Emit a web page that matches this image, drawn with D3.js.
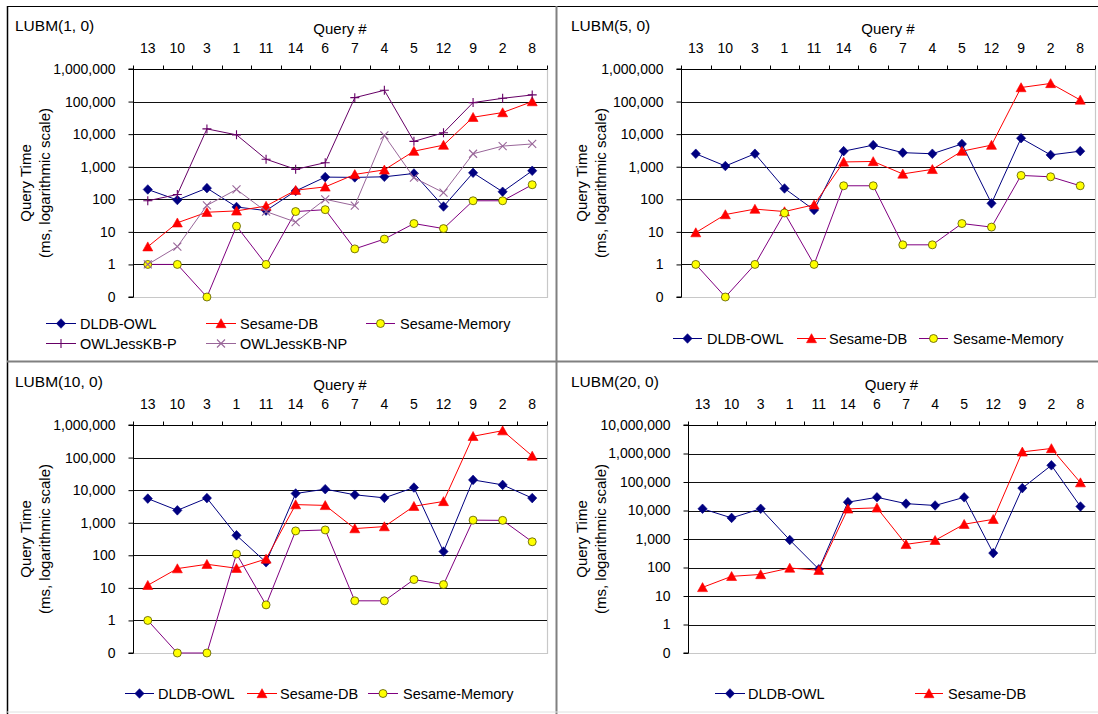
<!DOCTYPE html>
<html>
<head>
<meta charset="utf-8">
<script src="https://cdn.jsdelivr.net/npm/d3@7"></script>
<style>
  html, body { margin: 0; padding: 0; background: #fff; }
  svg { display: block; }
  text { font-family: "Liberation Sans", Arial, sans-serif; fill: #000; }
</style>
</head>
<body>
<svg id="chart" width="1098" height="714"></svg>
<script>
// ---------------- DATA ----------------
const categories = ["13", "10", "3", "1", "11", "14", "6", "7", "4", "5", "12", "9", "2", "8"];
const seriesNames = ["DLDB-OWL", "Sesame-DB", "Sesame-Memory", "OWLJessKB-P", "OWLJessKB-NP"];
const panelTitles = ["LUBM(1, 0)", "LUBM(5, 0)", "LUBM(10, 0)", "LUBM(20, 0)"];
const yTicksSmall = [0.1, 1, 10, 100, 1000, 10000, 100000, 1000000];
const yTicksLarge = [0.1, 1, 10, 100, 1000, 10000, 100000, 1000000, 10000000];

// LUBM(1, 0)
const lubm1_dldb = [200, 95, 220, 58, 45, 180, 480, 470, 490, 620, 60, 650, 170, 750];
const lubm1_sesameDB = [3.5, 19, 40, 44, 62, 190, 240, 580, 800, 3000, 4600, 33000, 46000, 100000];
const lubm1_sesameMem = [1, 1, 0.1, 15, 1, 42, 48, 3, 6, 18, 12.6, 90, 90, 280];
const lubm1_jessP = [90, 140, 14500, 9500, 1700, 830, 1330, 132000, 222000, 6000, 11000, 93000, 126000, 160000];
const lubm1_jessNP = [1, 3.5, 65, 200, 42, 20, 100, 64, 9100, 460, 160, 2500, 4300, 5000];

// LUBM(5, 0)
const lubm5_dldb = [2500, 1050, 2500, 215, 47, 3000, 4600, 2700, 2500, 5000, 75, 7500, 2300, 3000];
const lubm5_sesameDB = [9.5, 34, 50, 42, 68, 1400, 1450, 600, 830, 3000, 4600, 270000, 360000, 112000];
const lubm5_sesameMem = [1, 0.1, 1, 38, 1, 260, 260, 4, 4, 18, 14, 540, 490, 260];

// LUBM(10, 0)
const lubm10_dldb = [5500, 2400, 5700, 410, 61, 7900, 10700, 7200, 5800, 12000, 130, 20600, 14500, 5700];
const lubm10_sesameDB = [12, 39, 53, 40, 77, 3600, 3400, 660, 760, 3200, 4500, 450000, 670000, 112000];
const lubm10_sesameMem = [1, 0.1, 0.1, 110, 3, 560, 600, 4, 4, 18, 12.6, 1200, 1180, 260];

// LUBM(20, 0)
const lubm20_dldb = [11500, 5500, 11500, 920, 87, 19600, 29000, 17400, 15000, 29000, 320, 61000, 385000, 13800];
const lubm20_sesameDB = [20, 49, 57, 96, 80, 11400, 12400, 650, 900, 3300, 4900, 1140000, 1500000, 95000];

// ---------------- STYLES ----------------
const styles = {
  "DLDB-OWL":      { line: "#000080", marker: "diamond", fill: "#000080", stroke: "#000080" },
  "Sesame-DB":     { line: "#FF0000", marker: "triangle", fill: "#FF0000", stroke: "#FF0000" },
  "Sesame-Memory": { line: "#800080", marker: "circle", fill: "#FFFF00", stroke: "#555500" },
  "OWLJessKB-P":   { line: "#660066", marker: "plus", fill: "none", stroke: "#660066" },
  "OWLJessKB-NP":  { line: "#996699", marker: "cross", fill: "none", stroke: "#996699" }
};

function markerPath(type) {
  switch (type) {
    case "diamond": return "M0,-4.8L4.6,0L0,4.8L-4.6,0Z";
    case "triangle": return "M0,-4.8L5,4.2L-5,4.2Z";
    case "plus": return "M-4.5,0H4.5M0,-4.5V4.5";
    case "cross": return "M-4,-4L4,4M-4,4L4,-4";
    default: return null;
  }
}

function drawMarker(g, type, x, y) {
  const st = Object.values(styles).find(s => s.marker === type);
  if (type === "circle") {
    g.append("circle").attr("cx", x).attr("cy", y).attr("r", 4)
      .attr("fill", st.fill).attr("stroke", st.stroke).attr("stroke-width", 0.8);
  } else {
    g.append("path").attr("d", markerPath(type))
      .attr("transform", `translate(${x},${y})`)
      .attr("fill", st.fill).attr("stroke", st.stroke)
      .attr("stroke-width", (type === "plus" || type === "cross") ? 1.1 : 0.6);
  }
}

const svg = d3.select("#chart");

// ---------------- FRAME ----------------
svg.append("rect").attr("x", 0).attr("y", 0).attr("width", 1098).attr("height", 714).attr("fill", "#fff");

const panels = [
  { title: panelTitles[0], left: 133, right: 547, top: 69, bottom: 297, ticks: yTicksSmall, ox: 0, oy: 0,
    series: [["DLDB-OWL", lubm1_dldb], ["Sesame-DB", lubm1_sesameDB], ["Sesame-Memory", lubm1_sesameMem],
             ["OWLJessKB-P", lubm1_jessP], ["OWLJessKB-NP", lubm1_jessNP]],
    legend: [
      { name: "DLDB-OWL", x1: 46, x2: 76, tx: 80, y: 323 },
      { name: "Sesame-DB", x1: 206, x2: 236, tx: 240, y: 323 },
      { name: "Sesame-Memory", x1: 366, x2: 395, tx: 400, y: 323 },
      { name: "OWLJessKB-P", x1: 46, x2: 76, tx: 80, y: 343 },
      { name: "OWLJessKB-NP", x1: 206, x2: 236, tx: 240, y: 343 }
    ] },
  { title: panelTitles[1], left: 681, right: 1095, top: 69, bottom: 297, ticks: yTicksSmall, ox: 556, oy: 0,
    series: [["DLDB-OWL", lubm5_dldb], ["Sesame-DB", lubm5_sesameDB], ["Sesame-Memory", lubm5_sesameMem]],
    legend: [
      { name: "DLDB-OWL", x1: 673, x2: 702, tx: 707, y: 338 },
      { name: "Sesame-DB", x1: 797, x2: 826, tx: 829, y: 338 },
      { name: "Sesame-Memory", x1: 919, x2: 948, tx: 953, y: 338 }
    ] },
  { title: panelTitles[2], left: 133, right: 547, top: 425, bottom: 653, ticks: yTicksSmall, ox: 0, oy: 356,
    series: [["DLDB-OWL", lubm10_dldb], ["Sesame-DB", lubm10_sesameDB], ["Sesame-Memory", lubm10_sesameMem]],
    legend: [
      { name: "DLDB-OWL", x1: 125, x2: 154, tx: 158, y: 693 },
      { name: "Sesame-DB", x1: 247, x2: 277, tx: 280, y: 693 },
      { name: "Sesame-Memory", x1: 368, x2: 398, tx: 403, y: 693 }
    ] },
  { title: panelTitles[3], left: 688, right: 1095, top: 425, bottom: 653, ticks: yTicksLarge, ox: 556, oy: 356,
    series: [["DLDB-OWL", lubm20_dldb], ["Sesame-DB", lubm20_sesameDB]],
    legend: [
      { name: "DLDB-OWL", x1: 715, x2: 745, tx: 748, y: 693 },
      { name: "Sesame-DB", x1: 915, x2: 943, tx: 948, y: 693 }
    ] }
];

const fmt = d3.format(",");

panels.forEach(p => {
  const g = svg.append("g");
  const x = d3.scaleBand().domain(categories).range([p.left, p.right]);
  const y = d3.scaleLog().domain([p.ticks[0], p.ticks[p.ticks.length - 1]]).range([p.bottom, p.top]);
  const cx = c => x(c) + x.bandwidth() / 2;

  // Panel title
  g.append("text").attr("x", p.ox + 15).attr("y", p.oy + 31)
    .attr("font-size", "15.5px").text(p.title);

  // Plot area border (right & bottom light gray)
  g.append("path")
    .attr("d", `M${p.right + 0.5},${p.top}V${p.bottom + 0.5}H${p.left}`)
    .attr("fill", "none").attr("stroke", "#c8c8c8").attr("stroke-width", 1.2);

  // Gridlines
  g.append("g").selectAll("line").data(p.ticks.slice(1)).join("line")
    .attr("x1", p.left).attr("x2", p.right)
    .attr("y1", d => Math.round(y(d)) + 0.5).attr("y2", d => Math.round(y(d)) + 0.5)
    .attr("stroke", "#111").attr("stroke-width", 1);

  // Y axis
  const yAxis = d3.axisLeft(y).tickValues(p.ticks)
    .tickFormat(d => d < 1 ? "0" : fmt(d)).tickSize(5).tickPadding(13);
  const ya = g.append("g").attr("transform", `translate(${p.left + 0.5},0)`).call(yAxis);
  ya.select(".domain").attr("stroke", "#000").attr("d", `M-5,${p.top}H0V${p.bottom}H-5`);
  ya.selectAll(".tick line").attr("stroke", "#000");
  ya.selectAll("text").attr("font-size", "14px").attr("font-family", "Liberation Sans, Arial, sans-serif").attr("fill", "#000");

  // X axis on top: labels at category centres, ticks at boundaries
  const xAxis = d3.axisTop(x).tickSize(0).tickPadding(16.5);
  const xa = g.append("g").attr("transform", `translate(0,${p.top + 0.5})`).call(xAxis);
  xa.select(".domain").attr("stroke", "#000").attr("d", `M${p.left},0H${p.right}`);
  xa.selectAll("text").attr("font-size", "14px").attr("font-family", "Liberation Sans, Arial, sans-serif").attr("fill", "#000");
  const bounds = categories.map(c => x(c)).concat([p.right]);
  g.append("g").selectAll("line").data(bounds).join("line")
    .attr("x1", d => Math.round(d) + 0.5).attr("x2", d => Math.round(d) + 0.5)
    .attr("y1", p.top + 0.5).attr("y2", p.top - 3.5)
    .attr("stroke", "#000").attr("stroke-width", 1);

  // Axis titles
  g.append("text").attr("x", (p.left + p.right) / 2).attr("y", p.oy + 34)
    .attr("text-anchor", "middle").attr("font-size", "15px").text("Query #");
  const ymid = (p.top + p.bottom) / 2;
  g.append("text").attr("transform", `translate(${p.ox + 31},${ymid}) rotate(-90)`)
    .attr("text-anchor", "middle").attr("font-size", "15px").text("Query Time");
  g.append("text").attr("transform", `translate(${p.ox + 50},${ymid}) rotate(-90)`)
    .attr("text-anchor", "middle").attr("font-size", "15px").text("(ms, logarithmic scale)");

  // Series
  const line = d3.line().x((d, i) => cx(categories[i])).y(d => y(d));
  p.series.forEach(([name, vals]) => {
    const st = styles[name];
    const sg = g.append("g");
    sg.append("path").datum(vals).attr("d", line)
      .attr("fill", "none").attr("stroke", st.line).attr("stroke-width", 1);
    vals.forEach((v, i) => drawMarker(sg, st.marker, cx(categories[i]), y(v)));
  });

  // Legend
  p.legend.forEach(l => {
    const st = styles[l.name];
    const lg = g.append("g");
    lg.append("line").attr("x1", l.x1).attr("x2", l.x2).attr("y1", l.y + 0.5).attr("y2", l.y + 0.5)
      .attr("stroke", st.line).attr("stroke-width", 1);
    drawMarker(lg, st.marker, (l.x1 + l.x2) / 2, l.y + 0.5);
    lg.append("text").attr("x", l.tx).attr("y", l.y + 5.5).attr("font-size", "14.5px").text(l.name);
  });
});

// Frame lines
svg.append("line").attr("x1", 7).attr("x2", 1098).attr("y1", 6.5).attr("y2", 6.5).attr("stroke", "#000").attr("stroke-width", 1);
svg.append("line").attr("x1", 7.5).attr("x2", 7.5).attr("y1", 6).attr("y2", 714).attr("stroke", "#000").attr("stroke-width", 1.5);
svg.append("line").attr("x1", 556.5).attr("x2", 556.5).attr("y1", 6).attr("y2", 714).attr("stroke", "#808080").attr("stroke-width", 2);
svg.append("line").attr("x1", 7).attr("x2", 1098).attr("y1", 361.5).attr("y2", 361.5).attr("stroke", "#808080").attr("stroke-width", 2);
svg.append("line").attr("x1", 7).attr("x2", 1098).attr("y1", 712).attr("y2", 712).attr("stroke", "#e0e0e0").attr("stroke-width", 1);
</script>
</body>
</html>
